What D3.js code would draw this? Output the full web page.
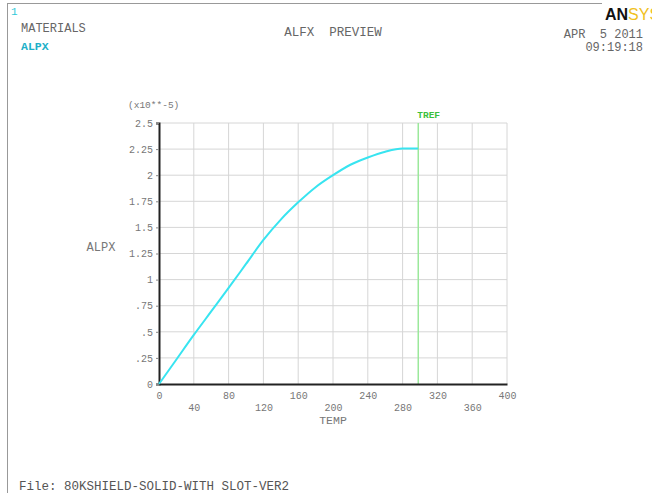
<!DOCTYPE html>
<html>
<head>
<meta charset="utf-8">
<script src="https://cdn.jsdelivr.net/npm/d3@7"></script>
<style>
  body { margin: 0; background: #fff; }
  svg text { font-family: "Liberation Mono", "DejaVu Sans Mono", monospace; }
</style>
</head>
<body>
<div class="chart"></div>
<script>
// curve points (TEMP, ALPX in 1e-5)
var temps = [0, 20, 40, 60, 80, 100, 120, 140, 160, 180, 200, 220, 240, 260, 280, 298];
var alpx  = [0, 0.235, 0.47, 0.695, 0.92, 1.15, 1.38, 1.575, 1.74, 1.885, 2.0, 2.1, 2.17, 2.225, 2.255, 2.255];
var tref = 298;
var xTicks = [0, 40, 80, 120, 160, 200, 240, 280, 320, 360, 400];
var yTicks = [0, 0.25, 0.5, 0.75, 1, 1.25, 1.5, 1.75, 2, 2.25, 2.5];
var yTickLabels = ["0", ".25", ".5", ".75", "1", "1.25", "1.5", "1.75", "2", "2.25", "2.5"];

var W = 652, H = 493;
var margin = {top: 123, right: 145, bottom: 109, left: 159},
    width = W - margin.left - margin.right,
    height = H - margin.top - margin.bottom;

var svg = d3.select(".chart").append("svg")
    .attr("width", W)
    .attr("height", H);

// outer frame lines
svg.append("line").attr("x1", 7).attr("x2", 602).attr("y1", 3.5).attr("y2", 3.5)
    .attr("stroke", "#999").attr("stroke-width", 1);
svg.append("line").attr("x1", 7.5).attr("x2", 7.5).attr("y1", 3).attr("y2", H)
    .attr("stroke", "#999").attr("stroke-width", 1);

// header texts
svg.append("text").attr("x", 11).attr("y", 15).text("1")
    .attr("fill", "#30c8d8").style("font-size", "11px");
svg.append("text").attr("x", 21).attr("y", 32).text("MATERIALS")
    .attr("fill", "#666").style("font-size", "12px");
svg.append("text").attr("x", 21).attr("y", 50).text("ALPX")
    .attr("fill", "#20b0c8").style("font-size", "11.5px").style("font-weight", "bold");
svg.append("text").attr("x", 333).attr("y", 36).attr("text-anchor", "middle")
    .text("ALFX  PREVIEW").attr("fill", "#666").style("font-size", "12.5px")
    .attr("xml:space", "preserve");
svg.append("text").attr("x", 643).attr("y", 38).attr("text-anchor", "end")
    .text("APR  5 2011").attr("fill", "#666").style("font-size", "12px")
    .attr("xml:space", "preserve");
svg.append("text").attr("x", 643).attr("y", 51).attr("text-anchor", "end")
    .text("09:19:18").attr("fill", "#666").style("font-size", "12px");

// logo (cut at the right edge as in the source)
var logo = svg.append("text").attr("x", 605).attr("y", 20)
    .style("font-family", "'Liberation Sans', Arial, sans-serif")
    .style("font-size", "16px").style("font-weight", "bold");
logo.append("tspan").text("AN").attr("fill", "#111");
logo.append("tspan").text("SYS").attr("fill", "#f0c020").style("font-weight", "normal");

var g = svg.append("g")
    .attr("transform", "translate(" + margin.left + "," + margin.top + ")");

var x = d3.scaleLinear().domain([0, 400]).range([0, width]);
var y = d3.scaleLinear().domain([0, 2.5]).range([height, 0]);

// grid
g.append("g").selectAll("line").data(xTicks.slice(1)).enter().append("line")
    .attr("x1", function(d) { return x(d); }).attr("x2", function(d) { return x(d); })
    .attr("y1", 0).attr("y2", height)
    .attr("stroke", "#d6d6d6").attr("stroke-width", 1);
g.append("g").selectAll("line").data(yTicks.slice(1)).enter().append("line")
    .attr("x1", 0).attr("x2", width)
    .attr("y1", function(d) { return y(d); }).attr("y2", function(d) { return y(d); })
    .attr("stroke", "#d6d6d6").attr("stroke-width", 1);

// TREF line
g.append("line")
    .attr("x1", x(tref)).attr("x2", x(tref))
    .attr("y1", 0).attr("y2", height)
    .attr("stroke", "#9be89b").attr("stroke-width", 1.5);
g.append("text").attr("x", x(tref) - 1).attr("y", -5)
    .text("TREF").attr("fill", "#3cc03c").style("font-size", "9.5px").style("font-weight", "bold");

// axes
var xAxis = g.append("g")
    .attr("transform", "translate(0," + height + ")")
    .call(d3.axisBottom(x).tickValues(xTicks).tickSize(0).tickFormat(""));
xAxis.select(".domain").attr("stroke", "#222").attr("stroke-width", 2);
xAxis.selectAll(".tick").append("text")
    .attr("y", function(d, i) { return i % 2 === 0 ? 15 : 27; })
    .attr("text-anchor", "middle")
    .attr("fill", "#777").style("font-size", "10px")
    .text(function(d) { return d; });

var yAxis = g.append("g")
    .call(d3.axisLeft(y).tickValues(yTicks).tickSize(3).tickFormat(function(d, i) { return yTickLabels[i]; }));
yAxis.select(".domain").attr("stroke", "#222").attr("stroke-width", 2);
yAxis.selectAll(".tick line").attr("stroke", "#888");
yAxis.selectAll(".tick text")
    .attr("fill", "#777").style("font-size", "10px")
    .style("font-family", "'Liberation Mono', monospace");

// curve
var line = d3.line()
    .x(function(d, i) { return x(temps[i]); })
    .y(function(d) { return y(d); })
    .curve(d3.curveMonotoneX);
g.append("path")
    .datum(alpx)
    .attr("fill", "none")
    .attr("stroke", "#38e4f0")
    .attr("stroke-width", 2)
    .attr("d", line);

// axis titles
svg.append("text").attr("x", 128).attr("y", 108).text("(x10**-5)")
    .attr("fill", "#777").style("font-size", "9.5px");
svg.append("text").attr("x", 101).attr("y", 251).attr("text-anchor", "middle")
    .text("ALPX").attr("fill", "#777").style("font-size", "12px");
svg.append("text").attr("x", 333).attr("y", 424).attr("text-anchor", "middle")
    .text("TEMP").attr("fill", "#777").style("font-size", "11.5px");

// footer
svg.append("text").attr("x", 19).attr("y", 490).text("File: 80KSHIELD-SOLID-WITH SLOT-VER2")
    .attr("fill", "#555").style("font-size", "12.5px");
</script>
</body>
</html>
